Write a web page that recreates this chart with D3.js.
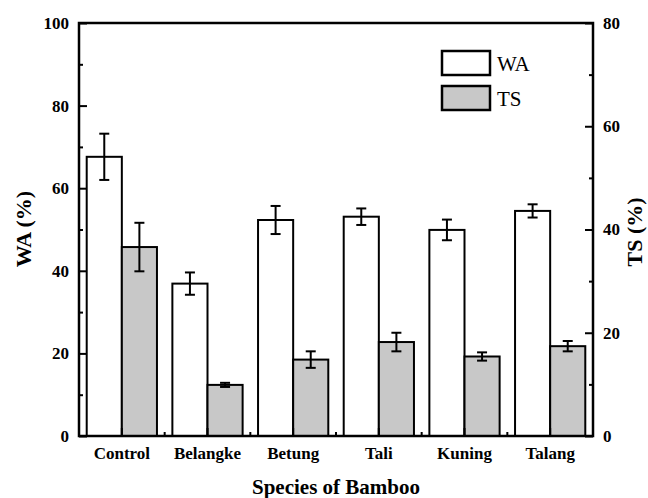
<!DOCTYPE html>
<html>
<head>
<meta charset="utf-8">
<script src="https://cdn.jsdelivr.net/npm/d3@7"></script>
<style>
  body { margin: 0; background: #fff; }
  text { font-family: "Liberation Serif", "Times New Roman", serif; }
</style>
</head>
<body>
<div id="chart"></div>
<script>
const species = ["Control", "Belangke", "Betung", "Tali", "Kuning", "Talang"];
const waValues = [67.6, 36.9, 52.3, 53.1, 49.9, 54.5];
const waErrors = [5.6, 2.7, 3.4, 2.0, 2.5, 1.6];
const tsValues = [36.6, 9.9, 14.8, 18.2, 15.4, 17.4];
const tsErrors = [4.7, 0.4, 1.6, 1.8, 0.8, 1.0];
const waTicks = [0, 20, 40, 60, 80, 100];
const tsTicks = [0, 20, 40, 60, 80];

const W = 648, H = 498;
const plotLeft = 79, plotRight = 593, plotTop = 23, plotBottom = 436;

const svg = d3.select("#chart").append("svg")
    .attr("width", W)
    .attr("height", H);

const x = d3.scaleBand()
    .domain(species)
    .range([plotLeft, plotRight])
    .padding(0);

const yWA = d3.scaleLinear().domain([0, 100]).range([plotBottom, plotTop]);
const yTS = d3.scaleLinear().domain([0, 80]).range([plotBottom, plotTop]);

const barW = x.bandwidth() * 0.41;

const groups = species.map((s, i) => ({
    name: s,
    wa: waValues[i], waErr: waErrors[i],
    ts: tsValues[i], tsErr: tsErrors[i]
}));

// WA bars (white)
svg.selectAll(".wa")
    .data(groups)
    .enter()
    .append("rect")
    .attr("class", "wa")
    .attr("x", d => x(d.name) + x.bandwidth() / 2 - barW)
    .attr("y", d => yWA(d.wa))
    .attr("width", barW)
    .attr("height", d => plotBottom - yWA(d.wa))
    .attr("fill", "#ffffff")
    .attr("stroke", "#000")
    .attr("stroke-width", 2);

// TS bars (gray)
svg.selectAll(".ts")
    .data(groups)
    .enter()
    .append("rect")
    .attr("class", "ts")
    .attr("x", d => x(d.name) + x.bandwidth() / 2)
    .attr("y", d => yTS(d.ts))
    .attr("width", barW)
    .attr("height", d => plotBottom - yTS(d.ts))
    .attr("fill", "#c8c8c8")
    .attr("stroke", "#000")
    .attr("stroke-width", 2);

// error bars
function errorBars(cls, key, errKey, scale, offset) {
    const g = svg.selectAll("." + cls)
        .data(groups)
        .enter()
        .append("g")
        .attr("class", cls)
        .attr("stroke", "#000")
        .attr("stroke-width", 2);
    const cx = d => x(d.name) + x.bandwidth() / 2 + offset;
    g.append("line")
        .attr("x1", cx).attr("x2", cx)
        .attr("y1", d => scale(d[key] + d[errKey]))
        .attr("y2", d => scale(d[key] - d[errKey]));
    g.append("line")
        .attr("x1", d => cx(d) - 5).attr("x2", d => cx(d) + 5)
        .attr("y1", d => scale(d[key] + d[errKey]))
        .attr("y2", d => scale(d[key] + d[errKey]));
    g.append("line")
        .attr("x1", d => cx(d) - 5).attr("x2", d => cx(d) + 5)
        .attr("y1", d => scale(d[key] - d[errKey]))
        .attr("y2", d => scale(d[key] - d[errKey]));
}
errorBars("wa-err", "wa", "waErr", yWA, -barW / 2);
errorBars("ts-err", "ts", "tsErr", yTS, barW / 2);

// frame
svg.append("rect")
    .attr("x", plotLeft)
    .attr("y", plotTop)
    .attr("width", plotRight - plotLeft)
    .attr("height", plotBottom - plotTop)
    .attr("fill", "none")
    .attr("stroke", "#000")
    .attr("stroke-width", 2.5);

// left axis
const leftAxis = svg.append("g")
    .attr("transform", `translate(${plotLeft},0)`)
    .call(d3.axisLeft(yWA).tickValues(waTicks).tickSize(-8).tickPadding(10));
leftAxis.select(".domain").remove();
leftAxis.selectAll(".tick line").attr("stroke-width", 2);
leftAxis.selectAll("text")
    .style("font-size", "17px").style("font-weight", "bold").attr("fill", "#000");
svg.append("g")
    .attr("transform", `translate(${plotLeft},0)`)
    .call(d3.axisLeft(yWA).tickValues(d3.range(10, 100, 20)).tickSize(-4).tickFormat(""))
    .call(g => g.select(".domain").remove())
    .selectAll("line").attr("stroke-width", 2);

// right axis
const rightAxis = svg.append("g")
    .attr("transform", `translate(${plotRight},0)`)
    .call(d3.axisRight(yTS).tickValues(tsTicks).tickSize(-8).tickPadding(10));
rightAxis.select(".domain").remove();
rightAxis.selectAll(".tick line").attr("stroke-width", 2);
rightAxis.selectAll("text")
    .style("font-size", "17px").style("font-weight", "bold").attr("fill", "#000");
svg.append("g")
    .attr("transform", `translate(${plotRight},0)`)
    .call(d3.axisRight(yTS).tickValues(d3.range(10, 80, 20)).tickSize(-4).tickFormat(""))
    .call(g => g.select(".domain").remove())
    .selectAll("line").attr("stroke-width", 2);

// bottom axis
const bottomAxis = svg.append("g")
    .attr("transform", `translate(0,${plotBottom})`)
    .call(d3.axisBottom(x).tickSize(-8).tickPadding(11));
bottomAxis.select(".domain").remove();
bottomAxis.selectAll(".tick line").attr("stroke-width", 2);
bottomAxis.selectAll("text")
    .style("font-size", "17px").style("font-weight", "bold").attr("fill", "#000");
// minor ticks between groups
svg.append("g")
    .selectAll("line")
    .data(species.slice(1))
    .enter()
    .append("line")
    .attr("x1", d => x(d))
    .attr("x2", d => x(d))
    .attr("y1", plotBottom)
    .attr("y2", plotBottom - 4)
    .attr("stroke", "#000")
    .attr("stroke-width", 2);

// axis titles
svg.append("text")
    .attr("x", (plotLeft + plotRight) / 2)
    .attr("y", 494)
    .attr("text-anchor", "middle")
    .style("font-size", "21px")
    .style("font-weight", "bold")
    .text("Species of Bamboo");

svg.append("text")
    .attr("transform", `translate(31,229) rotate(-90)`)
    .attr("text-anchor", "middle")
    .style("font-size", "22px")
    .style("font-weight", "bold")
    .text("WA (%)");

svg.append("text")
    .attr("transform", `translate(642,232) rotate(-90)`)
    .attr("text-anchor", "middle")
    .style("font-size", "22px")
    .style("font-weight", "bold")
    .text("TS (%)");

// legend
const legendItems = [
    { label: "WA", fill: "#ffffff" },
    { label: "TS", fill: "#c8c8c8" }
];
const legend = svg.append("g").attr("transform", "translate(442,51)");
legend.selectAll("rect")
    .data(legendItems)
    .enter()
    .append("rect")
    .attr("x", 0)
    .attr("y", (d, i) => i * 35)
    .attr("width", 48)
    .attr("height", 24)
    .attr("fill", d => d.fill)
    .attr("stroke", "#000")
    .attr("stroke-width", 2.5);
legend.selectAll("text")
    .data(legendItems)
    .enter()
    .append("text")
    .attr("x", 55)
    .attr("y", (d, i) => i * 35 + 20)
    .style("font-size", "21px")
    .text(d => d.label);
</script>
</body>
</html>
